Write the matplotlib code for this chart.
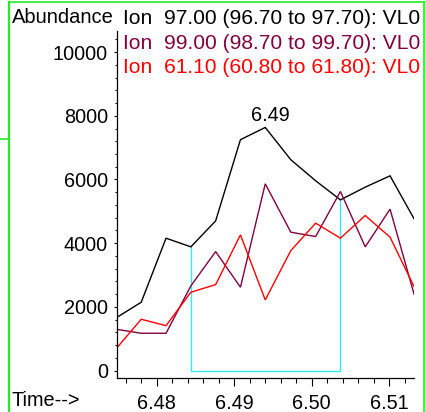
import matplotlib
matplotlib.use("Agg")
import matplotlib.pyplot as plt
from matplotlib.ticker import MultipleLocator
from matplotlib.lines import Line2D

plt.rcParams['font.family'] = ['Liberation Sans', 'DejaVu Sans']

# Retention times (min)
times = [6.4748, 6.4780, 6.4812, 6.4844, 6.4876, 6.4908, 6.4940,
         6.4973, 6.5005, 6.5037, 6.5069, 6.5101, 6.5132]
# Ion 97.00
ion97 = [1660, 2145, 4157, 3884, 4700, 7250, 7635, 6620, 5960, 5360, 5760, 6115, 4765]
# Ion 99.00
ion99 = [1295, 1170, 1170, 2657, 3736, 2616, 5865, 4345, 4208, 5623, 3884, 5069, 2396]
# Ion 61.10
ion61 = [698, 1610, 1409, 2459, 2698, 4261, 2217, 3767, 4629, 4157, 4868, 4189, 2635]

legend_labels = ["Ion  97.00 (96.70 to 97.70): VL0",
                 "Ion  99.00 (98.70 to 99.70): VL0",
                 "Ion  61.10 (60.80 to 61.80): VL0"]
colors = ["#000000", "#800040", "#ff0000"]
peak_label = "6.49"
peak_index = 6
integ_start, integ_end = 3, 9
xticks = [6.48, 6.49, 6.50, 6.51]
yticks = [0, 2000, 4000, 6000, 8000, 10000]

W, H = 425, 412
fig = plt.figure(figsize=(W / 100, H / 100), dpi=100)
ax = fig.add_axes([116.5 / W, 34 / H, (414 - 116.5) / W, (378 - 30.5) / H])

fs = 14.3
for vals, c in zip([ion97, ion99, ion61], colors):
    ax.plot(times, vals, color=c, lw=1.0, solid_joinstyle='miter', clip_on=True)

# integration baseline box (cyan)
cx = [times[integ_start], times[integ_start], times[integ_end], times[integ_end]]
cy = [ion97[integ_start], 0, 0, ion97[integ_end]]
ax.plot(cx, cy, color="#30e8f8", lw=1.0, zorder=1)

ax.set_xlim(6.47481, 6.51319)
ax.set_ylim(-235, 10680)
ax.set_xticks(xticks)
ax.set_xticklabels([f"{v:.2f}" for v in xticks])
ax.set_yticks(yticks)
ax.xaxis.set_minor_locator(MultipleLocator(0.002))
ax.yaxis.set_minor_locator(MultipleLocator(400))
ax.tick_params(axis='x', which='major', length=5.4, width=0.8, labelsize=fs, pad=6)
ax.tick_params(axis='x', which='minor', length=3.6, width=0.8)
ax.tick_params(axis='y', which='major', length=2.2, width=0.8, labelsize=fs, pad=4)
ax.tick_params(axis='y', which='minor', length=1.2, width=0.8)
for s in ['top', 'right']:
    ax.spines[s].set_visible(False)
for s in ['left', 'bottom']:
    ax.spines[s].set_linewidth(0.9)
ax.patch.set_visible(False)

ax.annotate(peak_label, xy=(times[peak_index], ion97[peak_index]),
            xytext=(5.5, 6), textcoords='offset pixels',
            ha='center', va='baseline', fontsize=fs)

def ftext(x, y, s, size=fs, **kw):
    fig.text(x / W, 1 - y / H, s, fontsize=size, va='baseline', **kw)

ftext(11.5, 23, "Abundance", size=14.5)
for i, (lab, c) in enumerate(zip(legend_labels, colors)):
    ftext(123, 24.5 + 24.4 * i, lab, size=15.1, color=c)
ftext(11.5, 406, "Time-->")

# green frame
g = "#22ee22"
fig.add_artist(Line2D([9 / W, 9 / W], [0, 1 - 2 / H], color=g, lw=1.6, transform=fig.transFigure))
fig.add_artist(Line2D([9 / W, 423.5 / W], [1 - 2 / H, 1 - 2 / H], color=g, lw=1.2, transform=fig.transFigure))
fig.add_artist(Line2D([423.5 / W, 423.5 / W], [0, 1 - 2 / H], color=g, lw=1.2, transform=fig.transFigure))
fig.add_artist(Line2D([0, 9 / W], [1 - 138.5 / H, 1 - 138.5 / H], color=g, lw=1.2, transform=fig.transFigure))

fig.savefig("out.png", dpi=100)
